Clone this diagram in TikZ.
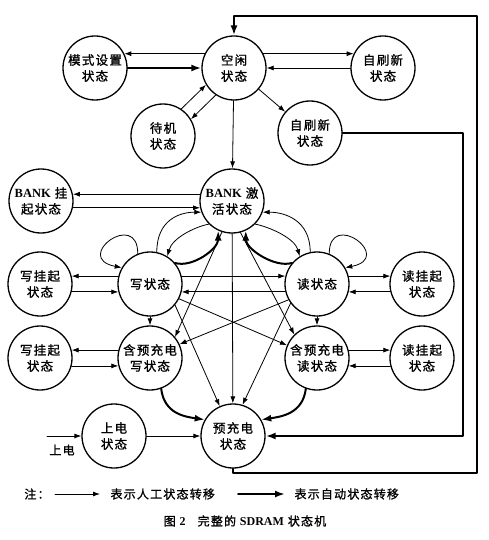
\documentclass[tikz,border=0pt]{standalone}
\usepackage{fontspec}
\setmainfont{Liberation Serif}
\newfontfamily\cjk[LetterSpace=10,FakeBold=1.2]{Noto Sans CJK SC}
\usetikzlibrary{arrows.meta}

\begin{document}
\begin{tikzpicture}[line cap=round,line join=round,x=1pt,y=-1pt,
    >={Latex[length=7pt,width=5pt]},
    state/.style={circle,draw,line width=1.3pt,minimum size=64pt,inner sep=0pt,
        align=center,font=\cjk\fontsize{12.5}{16}\selectfont},
    mantrans/.style={->,line width=0.8pt},
    autotrans/.style={-{Latex[length=10pt,width=7pt]},line width=2pt},
    legend/.style={font=\cjk\fontsize{12}{14}\selectfont}]

    \useasboundingbox (0,0) rectangle (489,540);

    \node[state] (idle) at (234,68) {空闲\\状态};
    \node[state] (mode) at (95,68) {模式设置\\状态};
    \node[state] (selfref) at (383,68) {自刷新\\状态};
    \node[state] (standby) at (163,136) {待机\\状态};
    \node[state] (selfrefb) at (310,133) {自刷新\\状态};
    \node[state] (bankact) at (232,201) {{\normalfont\bfseries BANK} 激\\活状态};
    \node[state] (banksusp) at (41,201) {{\normalfont\bfseries BANK} 挂\\起状态};
    \node[state] (write) at (150,284) {写状态};
    \node[state] (read) at (317,284) {读状态};
    \node[state] (wsusp) at (40,284) {写挂起\\状态};
    \node[state] (rsusp) at (422,284) {读挂起\\状态};
    \node[state] (wpre) at (150,358) {含预充电\\写状态};
    \node[state] (rpre) at (317,358) {含预充电\\读状态};
    \node[state] (wsuspb) at (40,358) {写挂起\\状态};
    \node[state] (rsuspb) at (422,358) {读挂起\\状态};
    \node[state] (pre) at (233,436) {预充电\\状态};
    \node[state] (power) at (114,436) {上电\\状态};

    \draw[mantrans] (idle.154) -- (mode.26);
    \draw[autotrans] (mode.east) -- (idle.west);
    \draw[mantrans] (idle.26) -- (selfref.154);
    \draw[mantrans] (selfref.west) -- (idle.east);
    \draw[mantrans] (standby.56) -- (idle.211);
    \draw[mantrans] (idle.236) -- (standby.31);
    \draw[mantrans] (idle) -- (selfrefb);
    \draw[mantrans] (idle) -- (bankact);

    \draw[mantrans] (bankact.168) -- (banksusp.12);
    \draw[mantrans] (banksusp.-12) -- (bankact.192);

    \draw[mantrans] (write.166) -- (wsusp.14);
    \draw[mantrans] (wsusp.-14) -- (write.194);
    \draw[mantrans] (write.14) -- (read.166);
    \draw[mantrans] (read.194) -- (write.-14);
    \draw[mantrans] (read.14) -- (rsusp.166);
    \draw[mantrans] (rsusp.194) -- (read.-14);
    \draw[mantrans] (wpre.166) -- (wsuspb.14);
    \draw[mantrans] (wsuspb.-14) -- (wpre.194);
    \draw[mantrans] (rpre.14) -- (rsuspb.166);
    \draw[mantrans] (rsuspb.194) -- (rpre.-14);

    % loops and curves round BANK
    \draw[mantrans] (write.112) .. controls +(0,-45) and +(-50,-10) .. (write.150);
    \draw[mantrans] (read.68) .. controls +(0,-45) and +(50,-10) .. (read.30);
    \draw[mantrans] (write.78) .. controls +(0,-32) and +(-22,0) .. (bankact.200);
    \draw[mantrans] (bankact.225) .. controls +(-15,3) and +(5,-18) .. (write.58);
    \draw[autotrans] (write.40) .. controls +(18,5) and +(0,18) .. (bankact.245);
    \draw[mantrans] (read.102) .. controls +(0,-32) and +(22,0) .. (bankact.-20);
    \draw[mantrans] (bankact.-45) .. controls +(15,3) and +(-5,-18) .. (read.122);
    \draw[autotrans] (read.140) .. controls +(-18,5) and +(0,18) .. (bankact.-65);

    \draw[mantrans] (bankact) -- (pre);
    \draw[mantrans] (bankact.252) -- (wpre.40);
    \draw[mantrans] (bankact.285) -- (rpre.134);
    \draw[mantrans] (write.-40) -- (pre.114);
    \draw[mantrans] (read.216) -- (pre.73);
    \draw[mantrans] (write.-27) -- (rpre.157);
    \draw[mantrans] (read.209) -- (wpre.25);
    \draw[mantrans] (write) -- (wpre);
    \draw[mantrans] (read) -- (rpre);

    \draw[autotrans] (wpre.-70) .. controls +(3,25) and +(-20,-3) .. (pre.150);
    \draw[autotrans] (rpre.-110) .. controls +(-3,25) and +(20,-3) .. (pre.30);

    \draw[mantrans] (power) -- (pre);
    \coordinate (pin) at (47,436);
    \draw[mantrans] (pin) -- (power);
    \node[legend] (pinlabel) at (62,450) {上电};

    % return wires
    \coordinate (ca) at (477,473);
    \coordinate (cb) at (477,16);
    \draw[autotrans] (pre.south) |- (ca) -- (cb) -| (idle.north);
    \coordinate (cc) at (463,436);
    \draw[autotrans] (selfrefb.east) -| (cc) -- (pre.east);

    % legend
    \node[legend] (note) at (37,494) {注：};
    \coordinate (la) at (55,494);
    \coordinate (lb) at (100,494);
    \draw[mantrans] (la) -- (lb);
    \node[legend,anchor=west] (mantext) at (107,494) {表示人工状态转移};
    \coordinate (lc) at (238,494);
    \coordinate (ld) at (285,494);
    \draw[autotrans] (lc) -- (ld);
    \node[legend,anchor=west] (autotext) at (291,494) {表示自动状态转移};
    \node[legend] (caption) at (245,521) {图 {\normalfont\bfseries 2}\quad 完整的 {\normalfont\bfseries SDRAM} 状态机};
\end{tikzpicture}
\end{document}
